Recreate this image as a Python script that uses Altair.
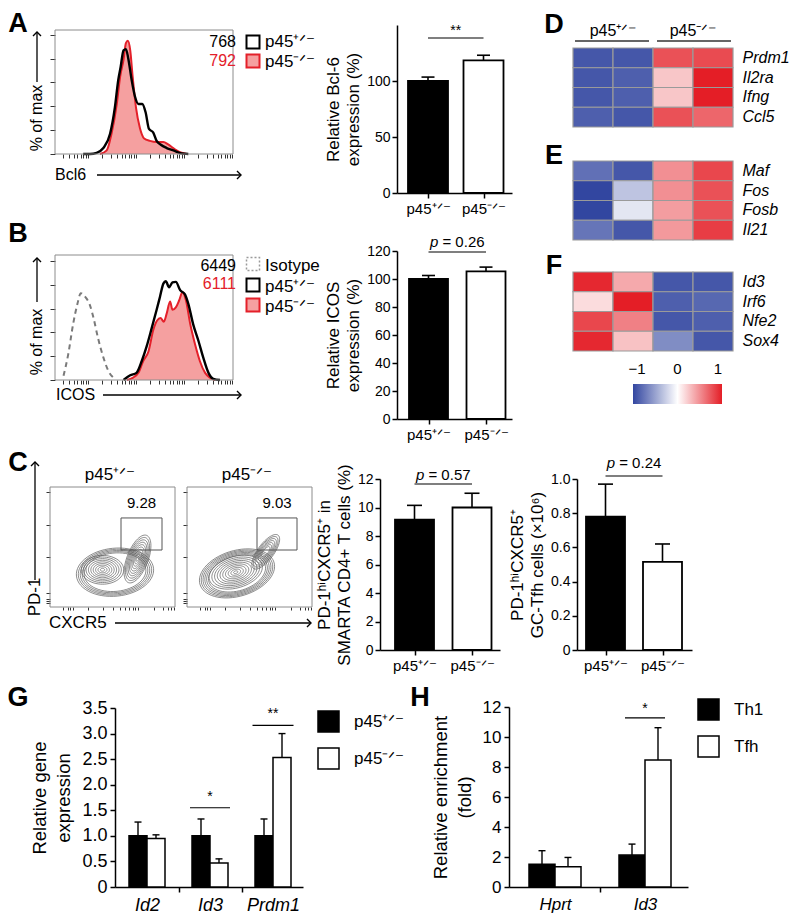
import altair as alt
import numpy as np
import pandas as pd

# ------------------------------------------------------------------ data
GENO = ["p45⁺ᐟ⁻", "p45⁻ᐟ⁻"]

# A  Bcl6 histograms (x = log10 fluorescence, y = % of max)
bcl6_het_x = [1.90, 2.04, 2.18, 2.32, 2.46, 2.56, 2.63, 2.68, 2.74, 2.79, 2.84, 2.91,
              2.98, 3.05, 3.13, 3.20, 3.27, 3.36, 3.43, 3.51, 3.64, 3.78, 3.95, 4.09]
bcl6_het_y = [0, 0, 1, 5, 17, 39, 62, 73, 87, 88, 80, 62, 48, 42, 42, 35, 21, 18, 11, 8, 5, 3, 0.5, 0]
bcl6_ko_x = [2.25, 2.39, 2.49, 2.60, 2.67, 2.74, 2.79, 2.83, 2.88, 2.93, 3.00, 3.08,
             3.17, 3.29, 3.43, 3.57, 3.67, 3.81, 3.95, 4.06]
bcl6_ko_y = [0, 3, 17, 42, 65, 79, 93, 95, 87, 65, 39, 22, 13, 11, 10, 10, 8, 4, 1, 0]
bcl6_mfi = ["768", "792"]
bcl6_rel = [100.0, 118.5]
bcl6_sem = [3.5, 4.5]

# B  ICOS histograms
icos_iso_x = [1.49, 1.59, 1.69, 1.78, 1.85, 1.94, 2.03, 2.11, 2.21, 2.32, 2.42, 2.56]
icos_iso_y = [3.6, 22, 47, 64, 73, 70, 64, 53, 35, 19, 8, 1]
icos_het_x = [2.74, 2.88, 3.01, 3.12, 3.22, 3.33, 3.43, 3.50, 3.57, 3.62, 3.69, 3.76,
              3.83, 3.92, 4.02, 4.09, 4.19, 4.30, 4.40, 4.51, 4.61, 4.75]
icos_het_y = [0, 4, 6, 16, 28, 44, 59, 70, 81, 83, 78, 82, 82.5, 75.5, 72, 64, 47, 33, 19, 6, 1, 0]
icos_ko_x = [2.81, 2.94, 3.05, 3.15, 3.26, 3.36, 3.44, 3.51, 3.58, 3.64, 3.71, 3.76,
             3.83, 3.90, 3.97, 4.04, 4.13, 4.23, 4.33, 4.44, 4.54, 4.65]
icos_ko_y = [0, 2, 6, 16, 24, 42, 50, 52, 49, 56, 66, 59, 61, 67, 74, 67, 47, 30, 16, 6, 2, 0]
icos_labels = ["Isotype"] + GENO
icos_mfi = ["6449", "6111"]
icos_rel = [100.0, 105.5]
icos_sem = [2.5, 3.0]

# C  flow contour gates and summaries
gate_freq = ["9.28", "9.03"]
# populations: centre x, centre y, radius x, radius y, tilt (deg), rings, innermost fraction
het_pops = [(52, 29, 31, 20, 6, 5, 0.80), (42, 31, 17, 12, 0, 9, 0.10),
            (70, 40, 8.5, 21, -20, 10, 0.10)]
ko_pops = [(40, 28, 31, 19, 18, 6, 0.76), (39, 29, 22, 13, 18, 10, 0.08),
           (63, 46, 6.5, 17, -35, 7, 0.30)]
het_gate = [56.8, 89.6, 47.5, 74.2]
ko_gate = [56.0, 88.0, 47.5, 74.2]
tfh_pct = [9.15, 10.0]
tfh_pct_sem = [1.0, 1.0]
tfh_num = [0.78, 0.515]
tfh_num_sem = [0.19, 0.105]

# D-F  heatmaps (row z-scores)
heat_samples = ["het1", "het2", "ko1", "ko2"]
d_genes = ["Prdm1", "Il2ra", "Ifng", "Ccl5"]
d_vals = [[-1.0, -1.0, 0.85, 0.88], [-1.0, -0.95, 0.28, 1.1],
          [-1.0, -0.95, 0.28, 1.1], [-0.95, -1.0, 0.85, 0.75]]
e_genes = ["Maf", "Fos", "Fosb", "Il21"]
e_vals = [[-0.85, -1.0, 0.55, 0.9], [-1.1, -0.35, 0.55, 0.85],
          [-1.1, -0.15, 0.48, 0.85], [-0.82, -1.0, 0.5, 0.95]]
f_genes = ["Id3", "Irf6", "Nfe2", "Sox4"]
f_vals = [[1.05, 0.42, -1.0, -1.0], [0.17, 1.1, -0.95, -0.9],
          [0.9, 0.62, -1.0, -0.95], [1.05, 0.3, -0.68, -1.0]]
scale_ticks = [-1, 0, 1]

# G  qPCR
g_genes = ["Id2", "Id3", "Prdm1"]
g_het = [1.0, 1.0, 1.0]
g_het_sem = [0.27, 0.33, 0.33]
g_ko = [0.95, 0.47, 2.53]
g_ko_sem = [0.07, 0.08, 0.47]

# H  ChIP
h_loci = ["Hprt", "Id3"]
h_groups = ["Th1", "Tfh"]
h_th1 = [1.52, 2.13]
h_th1_sem = [0.9, 0.73]
h_tfh = [1.35, 8.47]
h_tfh_sem = [0.62, 2.15]

# ------------------------------------------------------------------ helpers
W, H = 784, 905
M = 8
FONT = "Liberation Sans"
RED = "#e4202a"
PINK = "#f5a0a0"
ONE = pd.DataFrame({"k": [0]})


def px(x):
    return x - M


def py(y):
    return y - M


def lin_x(v1, p1, v2, p2, lo, hi):
    k = (p2 - p1) / (v2 - v1)
    return alt.Scale(domain=[v1 + (lo - p1) / k, v1 + (hi - p1) / k],
                     range=[px(lo), px(hi)], nice=False, zero=False)


def lin_y(v1, p1, v2, p2, lo, hi):
    k = (p2 - p1) / (v2 - v1)
    return alt.Scale(domain=[v1 + (lo - p1) / k, v1 + (hi - p1) / k],
                     range=[py(lo), py(hi)], nice=False, zero=False)


def ax_left(xp, **kw):
    return alt.Axis(orient="left", offset=-px(xp), grid=False, **kw)


def ax_bottom(yp, **kw):
    return alt.Axis(orient="bottom", offset=py(yp) - H, grid=False, **kw)


def text(t, x, y, size=16, color="black", align="center", baseline="middle",
         style="normal", weight="normal", angle=0):
    kw = dict(fontSize=size, font=FONT, color=color, align=align, baseline=baseline,
              fontStyle=style, fontWeight=weight)
    if angle:
        kw["angle"] = angle
    return alt.Chart(pd.DataFrame({"t": [t]})).mark_text(**kw).encode(
        x=alt.value(px(x)), y=alt.value(py(y)), text="t:N")


def harrow(x1, x2, y):
    shaft = alt.Chart(ONE).mark_rule(color="black", strokeWidth=1.3).encode(
        x=alt.value(px(x1)), x2=alt.value(px(x2 - 1)), y=alt.value(py(y)))
    head = alt.Chart(ONE).mark_point(shape="M-1,-1L0,0L-1,1", size=64, filled=False,
                                     color="black", strokeWidth=1.4, opacity=1).encode(
        x=alt.value(px(x2)), y=alt.value(py(y)))
    return [shaft, head]


def varrow(x, y1, y2):
    shaft = alt.Chart(ONE).mark_rule(color="black", strokeWidth=1.3).encode(
        x=alt.value(px(x)), y=alt.value(py(y1)), y2=alt.value(py(y2 + 1)))
    head = alt.Chart(ONE).mark_point(shape="M-1,1L0,0L1,1", size=64, filled=False,
                                     color="black", strokeWidth=1.4, opacity=1).encode(
        x=alt.value(px(x)), y=alt.value(py(y2)))
    return [shaft, head]


def square(x, y, fill, stroke, dash=None, side=13):
    kw = dict(size=side * side, fill=fill, stroke=stroke, strokeWidth=2, opacity=1, fillOpacity=1)
    if dash:
        kw["strokeDash"] = dash
        kw["strokeWidth"] = 1.5
    return alt.Chart(ONE).mark_square(**kw).encode(x=alt.value(px(x)), y=alt.value(py(y)))


def log_ticks(lo, hi):
    vals = []
    for n in range(0, 7):
        for k in range(1, 10):
            v = n + np.log10(k)
            if lo <= v <= hi:
                vals.append(round(float(v), 4))
    return vals


CW = {"p": .556, "=": .584, " ": .278, ".": .278}


def twidth(s, fs):
    return sum(CW.get(c, .556) for c in s) * fs


# ------------------------------------------------------------------ panels
def hist_panel(frame, y100, curves):
    x0, x1, y0, y1 = frame
    xs = lin_x(2.0, 88, 3.0, 136, x0, x1)
    ys = lin_y(0, y1, 100, y100, y1, y0)
    lo = 2.0 + (x0 - 88) / 48.0
    hi = 2.0 + (x1 - 88) / 48.0
    xa = ax_bottom(y1, values=log_ticks(lo, hi), labels=False, domain=False, tickSize=4,
                   tickWidth=1, tickColor="#333", title=None)
    ya = ax_left(x0, values=[0, 20, 40, 60, 80, 100], labels=False, domain=False, tickSize=5,
                 tickWidth=1, tickColor="#333", title=None)
    out = []
    for kind, xv, yv, style in curves:
        df = pd.DataFrame({"x": xv, "y": yv})
        enc = dict(x=alt.X("x:Q", scale=xs, axis=xa), y=alt.Y("y:Q", scale=ys, axis=ya))
        if kind == "area":
            out.append(alt.Chart(df).mark_area(interpolate="monotone", **style).encode(**enc))
        else:
            out.append(alt.Chart(df).mark_line(interpolate="monotone", **style).encode(**enc))
    box = alt.Chart(ONE).mark_rect(fillOpacity=0, stroke="#8c8c8c", strokeWidth=1).encode(
        x=alt.value(px(x0)), x2=alt.value(px(x1)), y=alt.value(py(y0)), y2=alt.value(py(y1)))
    return alt.layer(*out, box)


def bar_panel(vals, sems, ymax, p0, ptop, ticks, axis_x, c1, c2, bw, capw, xend,
              title, sig_y, sig_ty, sig_label, ylab_expr=None, title_pad=4):
    xs = lin_x(1, c1, 2, c2, axis_x, xend)
    ys = lin_y(0, p0, ymax, ptop, p0, ptop)
    unit = c2 - c1
    hw, hc = bw / 2.0 / unit, capw / 2.0 / unit
    df = pd.DataFrame({"g": GENO, "pos": [1.0, 2.0], "val": vals,
                       "top": [v + s for v, s in zip(vals, sems)]})
    df["lo"], df["hi"] = df.pos - hw, df.pos + hw
    df["clo"], df["chi"] = df.pos - hc, df.pos + hc
    df["zero"] = 0.0
    xa = ax_bottom(p0, values=[1, 2], title=None, tickSize=5, tickWidth=1.5, domainWidth=1.5,
                   labelExpr=f"datum.value == 1 ? '{GENO[0]}' : '{GENO[1]}'",
                   labelFontSize=15, labelPadding=3, labelOverlap=False, labelFlush=False)
    ykw = dict(values=ticks, title=title, titleFontSize=17, titleLineHeight=20,
               labelFontSize=14, tickSize=5, tickWidth=1.5, domainWidth=1.5,
               titlePadding=title_pad, labelPadding=2, labelOverlap=False)
    if ylab_expr:
        ykw["labelExpr"] = ylab_expr
    ya = ax_left(axis_x, **ykw)
    base = alt.Chart(df)
    bars = base.mark_rect(stroke="black", strokeWidth=1.8).encode(
        x=alt.X("lo:Q", scale=xs, axis=xa), x2="hi",
        y=alt.Y("val:Q", scale=ys, axis=ya), y2="zero",
        fill=alt.Fill("g:N", scale=alt.Scale(domain=GENO, range=["black", "white"]), legend=None))
    err = base.mark_rule(color="black", strokeWidth=1.6).encode(
        x=alt.X("pos:Q", scale=xs, axis=xa), y=alt.Y("val:Q", scale=ys, axis=ya), y2="top")
    cap = base.mark_rule(color="black", strokeWidth=1.6).encode(
        x=alt.X("clo:Q", scale=xs, axis=xa), x2="chi", y=alt.Y("top:Q", scale=ys, axis=ya))
    sdf = pd.DataFrame({"a": [1.0], "b": [2.0], "y": [sig_y], "ty": [sig_ty], "m": [1.5]})
    sig = alt.Chart(sdf).mark_rule(color="black", strokeWidth=1.2).encode(
        x=alt.X("a:Q", scale=xs, axis=xa), x2="b", y=alt.Y("y:Q", scale=ys, axis=ya))
    layers = [bars, err, cap, sig]
    if sig_label.startswith("p"):
        fs = 15
        rest = sig_label[1:].strip()
        total = twidth("p " + rest, fs)
        left = -total / 2.0
        layers.append(alt.Chart(sdf.assign(t="p")).mark_text(
            font=FONT, fontSize=fs, fontStyle="italic", align="left", baseline="middle",
            dx=left, color="black").encode(
            x=alt.X("m:Q", scale=xs, axis=xa), y=alt.Y("ty:Q", scale=ys, axis=ya), text="t:N"))
        layers.append(alt.Chart(sdf.assign(t=rest)).mark_text(
            font=FONT, fontSize=fs, align="left", baseline="middle",
            dx=left + twidth("p ", fs), color="black").encode(
            x=alt.X("m:Q", scale=xs, axis=xa), y=alt.Y("ty:Q", scale=ys, axis=ya), text="t:N"))
    else:
        layers.append(alt.Chart(sdf.assign(t=sig_label)).mark_text(
            font=FONT, fontSize=14, align="center", baseline="middle", color="black").encode(
            x=alt.X("m:Q", scale=xs, axis=xa), y=alt.Y("ty:Q", scale=ys, axis=ya), text="t:N"))
    return alt.layer(*layers)


def contour_panel(pops, gate, freq, frame):
    x0, x1, y0, y1 = frame
    xs = alt.Scale(domain=[0, 100], range=[px(x0), px(x1)], nice=False, zero=False)
    ys = alt.Scale(domain=[0, 100], range=[py(y1), py(y0)], nice=False, zero=False)
    t = np.linspace(0, 2 * np.pi, 61)
    rows = []
    rid = 0
    for cx, cy, rx, ry, tilt, n, fmin in pops:
        a = np.radians(tilt)
        for f in np.linspace(1.0, fmin, n):
            ex, ey = rx * f * np.cos(t), ry * f * np.sin(t)
            xx = cx + ex * np.cos(a) - ey * np.sin(a)
            yy = cy + ex * np.sin(a) + ey * np.cos(a)
            for i, (u, v) in enumerate(zip(xx, yy)):
                rows.append({"ring": rid, "i": i, "x": float(u), "y": float(v)})
            rid += 1
    cdf = pd.DataFrame(rows)
    xa = ax_bottom(y1, values=[10, 14, 16, 18, 30, 42, 50, 56, 60, 63, 66, 68, 70, 83, 90, 94, 97, 99],
                   labels=False, domain=False, tickSize=3, tickWidth=1, tickColor="#333", title=None)
    ya = ax_left(x0, values=[3, 5, 7, 12, 42, 68, 96], labels=False, domain=False, tickSize=4,
                 tickWidth=1, tickColor="#333", title=None)
    lines = alt.Chart(cdf).mark_line(color="#5a5a5a", strokeWidth=0.7).encode(
        x=alt.X("x:Q", scale=xs, axis=xa), y=alt.Y("y:Q", scale=ys, axis=ya),
        detail="ring:N", order="i:Q")
    gdf = pd.DataFrame({"x0": [gate[0]], "x1": [gate[1]], "y0": [gate[2]], "y1": [gate[3]],
                        "tx": [(gate[0] + gate[1]) / 2.0], "ty": [86.7], "t": [freq]})
    g = alt.Chart(gdf).mark_rect(fillOpacity=0, stroke="#555", strokeWidth=1).encode(
        x=alt.X("x0:Q", scale=xs, axis=xa), x2="x1", y=alt.Y("y0:Q", scale=ys, axis=ya), y2="y1")
    gt = alt.Chart(gdf).mark_text(font=FONT, fontSize=15, color="black").encode(
        x=alt.X("tx:Q", scale=xs, axis=xa), y=alt.Y("ty:Q", scale=ys, axis=ya), text="t:N")
    box = alt.Chart(ONE).mark_rect(fillOpacity=0, stroke="#8c8c8c", strokeWidth=1).encode(
        x=alt.value(px(x0)), x2=alt.value(px(x1)), y=alt.value(py(y0)), y2=alt.value(py(y1)))
    return alt.layer(lines, g, gt, box)


HEAT_SCALE = alt.Scale(domain=[-1.1, 0, 1.1], range=["#3246a0", "#ffffff", "#e41e26"],
                       interpolate="rgb", clamp=True)


def heat_panel(genes, vals, top, bottom, legend):
    rows = []
    for gi, g in enumerate(genes):
        for si, s in enumerate(heat_samples):
            rows.append({"gene": g, "sample": s, "z": vals[gi][si]})
    df = pd.DataFrame(rows)
    ya = alt.Axis(orient="right", offset=px(733) - W, ticks=False, domain=False, labelPadding=9,
                  labelFontSize=16, labelFontStyle="italic", title=None, grid=False,
                  labelFont=FONT)
    return alt.Chart(df).mark_rect(stroke="#9a9a9a", strokeWidth=1.2).encode(
        x=alt.X("sample:N", scale=alt.Scale(domain=heat_samples, range=[px(573), px(733)],
                                            paddingInner=0, paddingOuter=0), axis=None),
        y=alt.Y("gene:N", scale=alt.Scale(domain=genes, range=[py(top), py(bottom)],
                                          paddingInner=0, paddingOuter=0), axis=ya),
        color=alt.Color("z:Q", scale=HEAT_SCALE, legend=legend))


def grouped_panel(cats, names, v1, s1, v2, s2, axis_x, cpx, xend, bw, capw, p0, ptop, ymax,
                  yticks, ylab_expr, title, title_pad, sigs, leg_xy, fs_tick, fs_title):
    n = len(cats)
    xs = lin_x(1, cpx[0], n, cpx[1], axis_x, xend)
    ys = lin_y(0, p0, ymax, ptop, p0, ptop)
    unit = (cpx[1] - cpx[0]) / (n - 1)
    w = bw / unit
    hc = capw / 2.0 / unit
    rows = []
    for i in range(n):
        g = i + 1.0
        rows.append(dict(s=names[0], lo=g - w, hi=g, mid=g - w / 2, val=v1[i], top=v1[i] + s1[i]))
        rows.append(dict(s=names[1], lo=g, hi=g + w, mid=g + w / 2, val=v2[i], top=v2[i] + s2[i]))
    df = pd.DataFrame(rows)
    df["clo"], df["chi"], df["zero"] = df.mid - hc, df.mid + hc, 0.0
    xvals = [1 + 0.5 * k for k in range(2 * n - 1)]
    lab = " : ".join(f"datum.value == {i + 1} ? '{c}'" for i, c in enumerate(cats)) + " : ''"
    xa = ax_bottom(p0, values=xvals, labelExpr=lab, title=None, tickSize=5, tickWidth=1.5,
                   domainWidth=1.5, labelFontSize=fs_tick, labelFontStyle="italic",
                   labelPadding=4, labelOverlap=False, labelFlush=False,
                   tickOpacity={"condition": {"test": "datum.value % 1 == 0", "value": 0}, "value": 1})
    ykw = dict(values=yticks, title=title, titleFontSize=fs_title, titleLineHeight=24,
               labelFontSize=fs_tick, tickSize=5, tickWidth=1.5, domainWidth=1.5,
               titlePadding=title_pad, labelPadding=3, labelOverlap=False)
    if ylab_expr:
        ykw["labelExpr"] = ylab_expr
    ya = ax_left(axis_x, **ykw)
    leg = alt.Legend(orient="none", legendX=px(leg_xy[0]), legendY=py(leg_xy[1]), title=None,
                     symbolType="square", symbolSize=441, symbolStrokeColor="black",
                     symbolStrokeWidth=1.5, labelFontSize=17, labelOffset=14, rowPadding=10,
                     padding=0, labelFont=FONT, labelColor="black")
    base = alt.Chart(df)
    bars = base.mark_rect(stroke="black", strokeWidth=1.5).encode(
        x=alt.X("lo:Q", scale=xs, axis=xa), x2="hi", y=alt.Y("val:Q", scale=ys, axis=ya), y2="zero",
        fill=alt.Fill("s:N", scale=alt.Scale(domain=names, range=["black", "white"]), legend=leg))
    err = base.mark_rule(color="black", strokeWidth=1.4).encode(
        x=alt.X("mid:Q", scale=xs, axis=xa), y=alt.Y("val:Q", scale=ys, axis=ya), y2="top")
    cap = base.mark_rule(color="black", strokeWidth=1.4).encode(
        x=alt.X("clo:Q", scale=xs, axis=xa), x2="chi", y=alt.Y("top:Q", scale=ys, axis=ya))
    srows = []
    for ci, ly, ty, lab_s, half_px in sigs:
        srows.append(dict(a=ci - half_px / unit, b=ci + half_px / unit, y=ly, ty=ty, m=float(ci), t=lab_s))
    sdf = pd.DataFrame(srows)
    sig = alt.Chart(sdf).mark_rule(color="black", strokeWidth=1.2).encode(
        x=alt.X("a:Q", scale=xs, axis=xa), x2="b", y=alt.Y("y:Q", scale=ys, axis=ya))
    st = alt.Chart(sdf).mark_text(font=FONT, fontSize=14, color="black").encode(
        x=alt.X("m:Q", scale=xs, axis=xa), y=alt.Y("ty:Q", scale=ys, axis=ya), text="t:N")
    return alt.layer(bars, err, cap, sig, st)


# ------------------------------------------------------------------ assemble
layers = []

# panel letters
for letter, lx, ly in [("A", 18, 24), ("B", 18, 234), ("C", 18, 463), ("D", 554, 25),
                       ("E", 554, 156), ("F", 554, 266), ("G", 18, 698), ("H", 420, 698)]:
    layers.append(text(letter, lx, ly, size=27, weight="bold"))

# A histogram
layers.append(hist_panel((55, 233, 30, 154), 34.8, [
    ("area", bcl6_ko_x, bcl6_ko_y, dict(color=PINK, opacity=1)),
    ("line", bcl6_ko_x, bcl6_ko_y, dict(color=RED, strokeWidth=2)),
    ("line", bcl6_het_x, bcl6_het_y, dict(color="black", strokeWidth=2.4)),
]))
layers += [text("Bcl6", 55, 175, align="left"), *harrow(97, 241, 175),
           text("% of max", 37, 118, angle=270), *varrow(37, 82, 32)]
layers += [text(bcl6_mfi[0], 236, 42, align="right"), text(bcl6_mfi[1], 236, 61, align="right", color=RED),
           square(253, 42, "white", "black"), square(253, 61, PINK, RED),
           text(GENO[0], 265, 42, size=17, align="left"), text(GENO[1], 265, 62, size=17, align="left")]

# B histogram
layers.append(hist_panel((55, 233, 255, 380), 261, [
    ("line", icos_iso_x, icos_iso_y, dict(color="#7a7a7a", strokeWidth=2, strokeDash=[5, 4])),
    ("area", icos_ko_x, icos_ko_y, dict(color=PINK, opacity=1)),
    ("line", icos_ko_x, icos_ko_y, dict(color=RED, strokeWidth=2)),
    ("line", icos_het_x, icos_het_y, dict(color="black", strokeWidth=2.4)),
]))
layers += [text("ICOS", 56, 395, align="left"), *harrow(103, 241, 395),
           text("% of max", 37, 342, angle=270), *varrow(37, 302, 258)]
layers += [text(icos_mfi[0], 236, 266, align="right"), text(icos_mfi[1], 236, 284, align="right", color=RED),
           square(253, 264, "white", "#9a9a9a", dash=[2, 2]), square(253, 285, "white", "black"),
           square(253, 305, PINK, RED),
           text(icos_labels[0], 265, 266, size=17, align="left"),
           text(icos_labels[1], 265, 287, size=17, align="left"),
           text(icos_labels[2], 265, 307, size=17, align="left")]

# A, B bars
layers.append(bar_panel(bcl6_rel, bcl6_sem, 150, 193, 25, [0, 50, 100, 150], 397, 428, 483.5, 40, 13, 512,
                        ["Relative Bcl-6", "expression (%)"], 138.4, 144.6, "**"))
layers.append(bar_panel(icos_rel, icos_sem, 120, 419, 251, [0, 20, 40, 60, 80, 100, 120], 397, 428.5, 486,
                        39, 13, 512, ["Relative ICOS", "expression (%)"], 119.3, 126.4, "p = 0.26"))

# C contour plots
layers.append(contour_panel(het_pops, het_gate, gate_freq[0], (50, 175, 487, 607)))
layers.append(contour_panel(ko_pops, ko_gate, gate_freq[1], (187, 312, 487, 607)))
layers += [text(GENO[0], 110, 475, size=17), text(GENO[1], 247, 475, size=17),
           text("CXCR5", 49, 623, size=17, align="left"), *harrow(115, 311, 623),
           text("PD-1", 35, 597, size=17, angle=270), *varrow(35, 580, 462)]

# C bars
layers.append(bar_panel(tfh_pct, tfh_pct_sem, 12, 650, 479, [0, 2, 4, 6, 8, 10, 12], 380, 414.5, 472,
                        39, 15, 500, ["PD-1ʰⁱCXCR5⁺ in", "SMARTA CD4+ T cells (%)"],
                        11.65, 12.28, "p = 0.57"))
layers.append(bar_panel(tfh_num, tfh_num_sem, 1.0, 650, 479, [0, 0.2, 0.4, 0.6, 0.8, 1.0], 577, 605.5,
                        662.5, 39, 15, 692, ["PD-1ʰⁱCXCR5⁺", "GC-Tfh cells (×10⁶)"],
                        1.0175, 1.094, "p = 0.24",
                        ylab_expr="datum.value == 0 ? '0' : format(datum.value, '.1f')"))

# D-F heatmaps
heat_leg = alt.Legend(orient="none", legendX=px(633), legendY=py(384), direction="horizontal",
                      gradientLength=89, gradientThickness=20, title=None, labelOpacity=0,
                      gradientStrokeWidth=0, padding=0)
layers.append(heat_panel(d_genes, d_vals, 48, 127, heat_leg))
layers.append(heat_panel(e_genes, e_vals, 161, 240, None))
layers.append(heat_panel(f_genes, f_vals, 272, 351, None))

grp_scale = alt.Scale(domain=[0, 4], range=[px(573), px(733)], nice=False, zero=False)
grp_df = pd.DataFrame({"g": GENO, "c": [1.0, 3.0], "lo": [0.05, 2.1], "hi": [1.9, 3.95]})
layers.append(alt.Chart(grp_df).mark_text(font=FONT, fontSize=16, color="black").encode(
    x=alt.X("c:Q", scale=grp_scale, axis=None), y=alt.value(py(31)), text="g:N"))
layers.append(alt.Chart(grp_df).mark_rule(color="#333", strokeWidth=1.5).encode(
    x=alt.X("lo:Q", scale=grp_scale, axis=None), x2="hi", y=alt.value(py(41))))

cb_scale = alt.Scale(domain=[-1.1, 1.1], range=[px(633), px(722)], nice=False, zero=False)
cb_df = pd.DataFrame({"v": scale_ticks, "t": ["−1" if v < 0 else str(v) for v in scale_ticks]})
layers.append(alt.Chart(cb_df).mark_text(font=FONT, fontSize=15, color="black").encode(
    x=alt.X("v:Q", scale=cb_scale, axis=None), y=alt.value(py(369)), text="t:N"))

# G
layers.append(grouped_panel(
    g_genes, GENO, g_het, g_het_sem, g_ko, g_ko_sem, 115, (147, 273), 303, 18, 7, 887, 708, 3.5,
    [0, 0.5, 1.0, 1.5, 2.0, 2.5, 3.0, 3.5],
    "datum.value == 0 ? '0' : format(datum.value, '.1f')",
    ["Relative gene", "expression"], 8,
    [(2, 1.55, 1.76, "*", 20), (3, 3.16, 3.39, "**", 20.5)], (317, 710), 18, 18.5))

# H
layers.append(grouped_panel(
    h_loci, h_groups, h_th1, h_th1_sem, h_tfh, h_tfh_sem, 509, (555, 645), 688, 26, 7, 887, 707, 12,
    [0, 2, 4, 6, 8, 10, 12], None,
    ["Relative enrichment", "(fold)"], 8,
    [(2, 11.27, 11.9, "*", 20)], (697, 698), 17, 18.5))

chart = (
    alt.layer(*layers)
    .properties(width=W, height=H, padding=0, autosize=alt.AutoSizeParams(type="none"))
    .resolve_scale(x="independent", y="independent", color="independent", fill="independent")
    .resolve_axis(x="independent", y="independent")
    .resolve_legend(color="independent", fill="independent")
    .configure_view(strokeWidth=0)
    .configure_axis(labelFont=FONT, titleFont=FONT, labelColor="black", titleColor="black",
                    domainColor="black", tickColor="black", titleFontWeight="normal")
    .configure_legend(labelFont=FONT, labelColor="black")
)

chart.save("out.html", embed_options={"renderer": "svg", "actions": False})
